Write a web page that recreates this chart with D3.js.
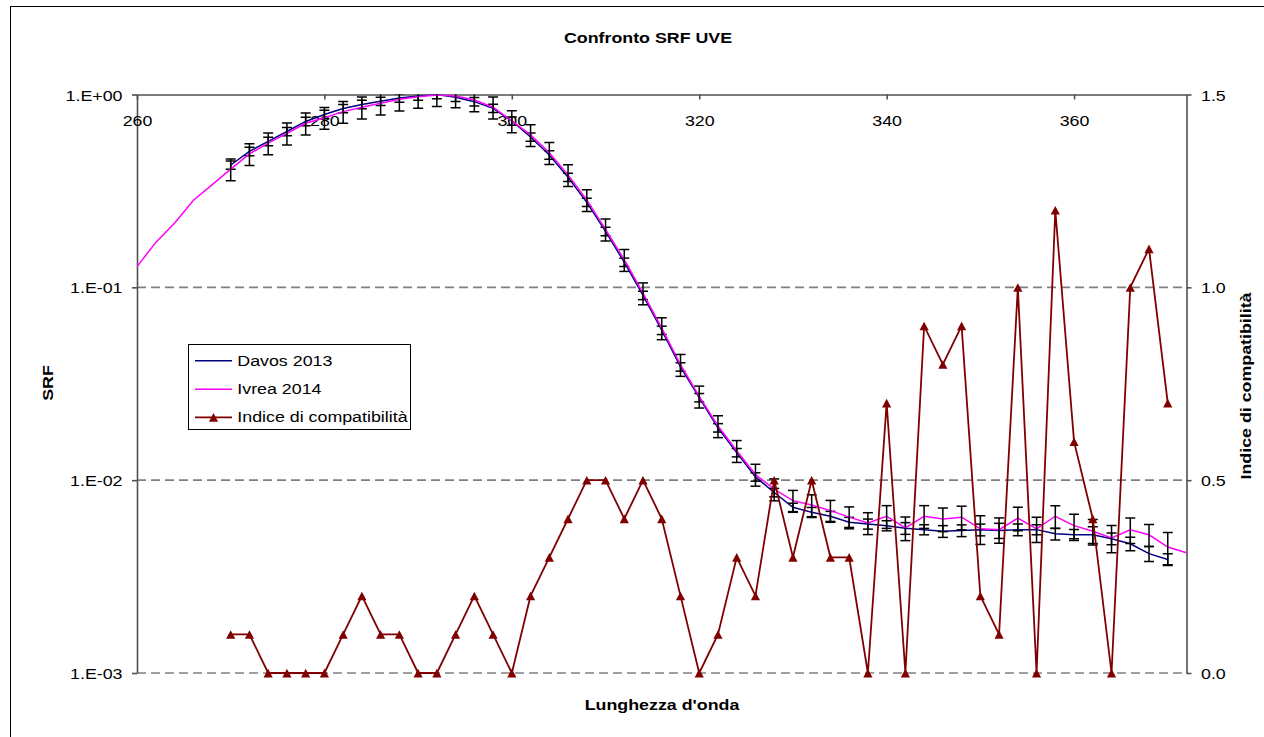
<!DOCTYPE html>
<html>
<head>
<meta charset="utf-8">
<script src="https://cdn.jsdelivr.net/npm/d3@7"></script>
<style>
  html, body { margin: 0; padding: 0; background: #fff; overflow: hidden; }
  svg { display: block; }
</style>
</head>
<body>
<svg id="chart" width="1264" height="737"></svg>
<script>
// Wavelength grid (nm) of the Davos points, error bars and compatibility index
const wavelengths = [270, 272, 274, 276, 278, 280, 282, 284, 286, 288, 290, 292, 294, 296, 298,
  300, 302, 304, 306, 308, 310, 312, 314, 316, 318, 320, 322, 324, 326, 328, 330, 332, 334, 336,
  338, 340, 342, 344, 346, 348, 350, 352, 354, 356, 358, 360, 362, 364, 366, 368, 370];

// Ivrea 2014 is measured on a wider grid
const ivreaWavelengths = [260, 262, 264, 266, 268, 270, 272, 274, 276, 278, 280, 282, 284, 286,
  288, 290, 292, 294, 296, 298, 300, 302, 304, 306, 308, 310, 312, 314, 316, 318, 320, 322, 324,
  326, 328, 330, 332, 334, 336, 338, 340, 342, 344, 346, 348, 350, 352, 354, 356, 358, 360, 362,
  364, 366, 368, 370, 372];

// Normalised spectral response (SRF)
const davos2013 = [0.431, 0.507, 0.571, 0.643, 0.725, 0.788, 0.846, 0.888, 0.922, 0.959, 0.982,
  1.000, 0.967, 0.918, 0.848, 0.729, 0.602, 0.486, 0.372, 0.276, 0.195, 0.135, 0.0909, 0.0599,
  0.0387, 0.0268, 0.0187, 0.0139, 0.0104, 0.00863, 0.00723, 0.00681, 0.00650, 0.00605, 0.00593,
  0.00581, 0.00563, 0.00554, 0.00543, 0.00548, 0.00553, 0.00548, 0.00554, 0.00554, 0.00527,
  0.00521, 0.00521, 0.00497, 0.00468, 0.00416, 0.00388];

const ivrea2014 = [0.128, 0.171, 0.215, 0.282, 0.340, 0.410, 0.492, 0.559, 0.629, 0.709, 0.758,
  0.815, 0.859, 0.900, 0.944, 0.974, 0.995, 0.982, 0.936, 0.859, 0.729, 0.617, 0.499, 0.383,
  0.284, 0.200, 0.139, 0.0933, 0.0615, 0.0397, 0.0272, 0.0191, 0.0142, 0.0107, 0.00898, 0.00783,
  0.00743, 0.00695, 0.00643, 0.00600, 0.00650, 0.00565, 0.00650, 0.00629, 0.00643, 0.00559,
  0.00554, 0.00635, 0.00559, 0.00650, 0.00581, 0.00543, 0.00501, 0.00553, 0.00521, 0.00450,
  0.00420];

// Relative uncertainties (fraction of the value), on the Davos grid
const uDavos = [0.05, 0.05, 0.05, 0.05, 0.05, 0.05, 0.05, 0.05, 0.05, 0.05, 0.05, 0.05, 0.05,
  0.05, 0.05, 0.05, 0.05, 0.05, 0.05, 0.05, 0.05, 0.05, 0.05, 0.05, 0.05, 0.05, 0.05, 0.05, 0.05,
  0.05, 0.05, 0.06, 0.06, 0.06, 0.06, 0.06, 0.07, 0.06, 0.07, 0.07, 0.07, 0.09, 0.07, 0.06, 0.07,
  0.065, 0.10, 0.07, 0.08, 0.09, 0.07];

const uIvrea = [0.13, 0.13, 0.13, 0.13, 0.13, 0.13, 0.13, 0.13, 0.13, 0.13, 0.13, 0.13, 0.13,
  0.13, 0.13, 0.13, 0.13, 0.13, 0.13, 0.13, 0.13, 0.13, 0.13, 0.13, 0.13, 0.13, 0.13, 0.13, 0.13,
  0.13, 0.13, 0.13, 0.13, 0.13, 0.13, 0.135, 0.14, 0.135, 0.14, 0.14, 0.17, 0.15, 0.14, 0.15,
  0.135, 0.145, 0.15, 0.16, 0.15, 0.13, 0.19];

// Compatibility index (right axis)
const compatIndex = [0.1, 0.1, 0, 0, 0, 0, 0.1, 0.2, 0.1, 0.1, 0, 0, 0.1, 0.2, 0.1, 0, 0.2, 0.3,
  0.4, 0.5, 0.5, 0.4, 0.5, 0.4, 0.2, 0, 0.1, 0.3, 0.2, 0.5, 0.3, 0.5, 0.3, 0.3, 0, 0.7, 0, 0.9,
  0.8, 0.9, 0.2, 0.1, 1.0, 0, 1.2, 0.6, 0.4, 0, 1.0, 1.1, 0.7];

// Axis ticks and labels
const xTicks = [260, 280, 300, 320, 340, 360];
const srfTicks = [1, 0.1, 0.01, 0.001];
const srfTickLabels = ["1.E+00", "1.E-01", "1.E-02", "1.E-03"];
const indexTicks = [0, 0.5, 1.0, 1.5];

const titleText = "Confronto SRF UVE";
const xTitle = "Lunghezza d'onda";
const yTitle = "SRF";
const y2Title = "Indice di compatibilità";
const legendLabels = ["Davos 2013", "Ivrea 2014", "Indice di compatibilità"];

// ---------------------------------------------------------------------------
const FONT = "'Liberation Sans', Arial, Helvetica, sans-serif";
const FS = 15.5;          // font size
const SX = 1.15;          // glyphs are drawn slightly widened
const C_DAVOS = "#000080", C_IVREA = "#ff00ff", C_INDEX = "#800000";
const C_AXIS = "#505050", C_GRID = "#808080";

const plot = { left: 137, right: 1186.5, top: 94.5, bottom: 673 };

const svg = d3.select("#chart");

const x = d3.scaleLinear().domain([260, 372]).range([plot.left, plot.right]);
const y = d3.scaleLog().domain([0.001, 1]).range([plot.bottom, plot.top]);
const y2 = d3.scaleLinear().domain([0, 1.5]).range([plot.bottom, plot.top]);

// Outer chart frame
svg.append("rect")
  .attr("x", 10.5).attr("y", 6.5).attr("width", 1400).attr("height", 900)
  .attr("fill", "#fff").attr("stroke", "#000").attr("stroke-width", 1);

svg.append("clipPath").attr("id", "plotClip")
  .append("rect")
  .attr("x", plot.left).attr("y", plot.top)
  .attr("width", plot.right - plot.left).attr("height", plot.bottom - plot.top);

function label(g, str, px, py, opts = {}) {
  const rot = opts.rotate || 0;
  return g.append("text")
    .attr("transform", `translate(${px},${py}) rotate(${rot}) scale(${SX},1)`)
    .attr("text-anchor", opts.anchor || "middle")
    .attr("font-family", FONT)
    .attr("font-size", FS)
    .attr("font-weight", opts.bold ? "bold" : "normal")
    .attr("fill", "#000")
    .text(str);
}

// Dashed horizontal gridlines at the decades
svg.append("g").selectAll("line")
  .data(srfTicks.filter(d => d < 1))
  .join("line")
  .attr("x1", plot.left).attr("x2", plot.right)
  .attr("y1", d => y(d)).attr("y2", d => y(d))
  .attr("stroke", C_GRID).attr("stroke-width", 1.6)
  .attr("stroke-dasharray", "9,5");

// Left axis (log SRF)
const gLeft = svg.append("g")
  .attr("transform", `translate(${plot.left},0)`)
  .call(d3.axisLeft(y).tickValues(srfTicks)
    .tickFormat((d, i) => srfTickLabels[i]).tickSize(5).tickSizeOuter(0));

// Right axis (compatibility index)
const gRight = svg.append("g")
  .attr("transform", `translate(${plot.right},0)`)
  .call(d3.axisRight(y2).tickValues(indexTicks)
    .tickFormat(d3.format(".1f")).tickSize(5).tickSizeOuter(0));

// Wavelength axis, drawn along the top of the plot
const gTop = svg.append("g")
  .attr("transform", `translate(0,${plot.top})`)
  .call(d3.axisBottom(x).tickValues(xTicks).tickFormat(d3.format("d"))
    .tickSize(5).tickSizeOuter(0).tickPadding(15.5));

[gLeft, gRight, gTop].forEach(g => {
  g.select(".domain").attr("stroke", C_AXIS).attr("stroke-width", 1.6);
  g.selectAll(".tick line").attr("stroke", C_AXIS).attr("stroke-width", 1.6);
  g.selectAll(".tick text")
    .attr("font-family", FONT).attr("font-size", FS).attr("fill", "#000")
    .attr("transform", `scale(${SX},1)`);
});
gLeft.selectAll(".tick text").attr("x", -14.5 / SX).attr("dy", "0.36em");
gRight.selectAll(".tick text").attr("x", 14.5 / SX).attr("dy", "0.36em");
gTop.select(".domain").attr("stroke", C_AXIS);
gLeft.attr("font-size", null);

// Series lines
const lineSrf = d3.line().x(d => x(d[0])).y(d => y(d[1]));
const davosPts = wavelengths.map((w, i) => [w, davos2013[i]]);
const ivreaPts = ivreaWavelengths.map((w, i) => [w, ivrea2014[i]]);

const gData = svg.append("g").attr("clip-path", "url(#plotClip)");

function errorBars(points, rel) {
  const g = gData.append("g").attr("stroke", "#000").attr("stroke-width", 1.5).attr("fill", "none");
  points.forEach((p, i) => {
    const cx = x(p[0]);
    const yHi = y(p[1] * (1 + rel[i]));
    const yLo = y(p[1] * (1 - rel[i]));
    g.append("line").attr("x1", cx).attr("x2", cx).attr("y1", yHi).attr("y2", yLo);
    g.append("line").attr("x1", cx - 5).attr("x2", cx + 5).attr("y1", yHi).attr("y2", yHi);
    g.append("line").attr("x1", cx - 5).attr("x2", cx + 5).attr("y1", yLo).attr("y2", yLo);
  });
}

gData.append("path").datum(davosPts)
  .attr("d", lineSrf).attr("fill", "none")
  .attr("stroke", C_DAVOS).attr("stroke-width", 1.5);
errorBars(davosPts, uDavos);

gData.append("path").datum(ivreaPts)
  .attr("d", lineSrf).attr("fill", "none")
  .attr("stroke", C_IVREA).attr("stroke-width", 1.5);
// Ivrea error bars only where both campaigns overlap
const ivreaOnGrid = wavelengths.map(w => [w, ivrea2014[ivreaWavelengths.indexOf(w)]]);
errorBars(ivreaOnGrid, uIvrea);

// Compatibility index on the secondary axis
const idxPts = wavelengths.map((w, i) => [w, compatIndex[i]]);
const triangle = "M0,-4.2L4.6,4.4L-4.6,4.4Z";
svg.append("path").datum(idxPts)
  .attr("d", d3.line().x(d => x(d[0])).y(d => y2(d[1])))
  .attr("fill", "none").attr("stroke", C_INDEX).attr("stroke-width", 1.8);
svg.append("g").selectAll("path")
  .data(idxPts)
  .join("path")
  .attr("transform", d => `translate(${x(d[0])},${y2(d[1])})`)
  .attr("d", triangle).attr("fill", C_INDEX);

// Titles
label(svg, titleText, 648, 42.5, { bold: true });
label(svg, xTitle, 662, 709.5, { bold: true });
label(svg, yTitle, 52.5, 383, { bold: true, rotate: -90 });
label(svg, y2Title, 1250.5, 386, { bold: true, rotate: -90 });

// Legend
const lg = svg.append("g");
lg.append("rect")
  .attr("x", 188.5).attr("y", 344.5).attr("width", 222).attr("height", 85)
  .attr("fill", "#fff").attr("stroke", "#000").attr("stroke-width", 1);
const legendRows = [
  { text: legendLabels[0], color: C_DAVOS, marker: false, yy: 360.7 },
  { text: legendLabels[1], color: C_IVREA, marker: false, yy: 389.3 },
  { text: legendLabels[2], color: C_INDEX, marker: true, yy: 417.3 }
];
legendRows.forEach(r => {
  lg.append("line").attr("x1", 195).attr("x2", 232)
    .attr("y1", r.yy).attr("y2", r.yy)
    .attr("stroke", r.color).attr("stroke-width", r.marker ? 1.8 : 1.5);
  if (r.marker) {
    lg.append("path").attr("transform", `translate(213.5,${r.yy})`)
      .attr("d", triangle).attr("fill", C_INDEX);
  }
  label(lg, r.text, 237.3, r.yy + 5, { anchor: "start" });
});
</script>
</body>
</html>
